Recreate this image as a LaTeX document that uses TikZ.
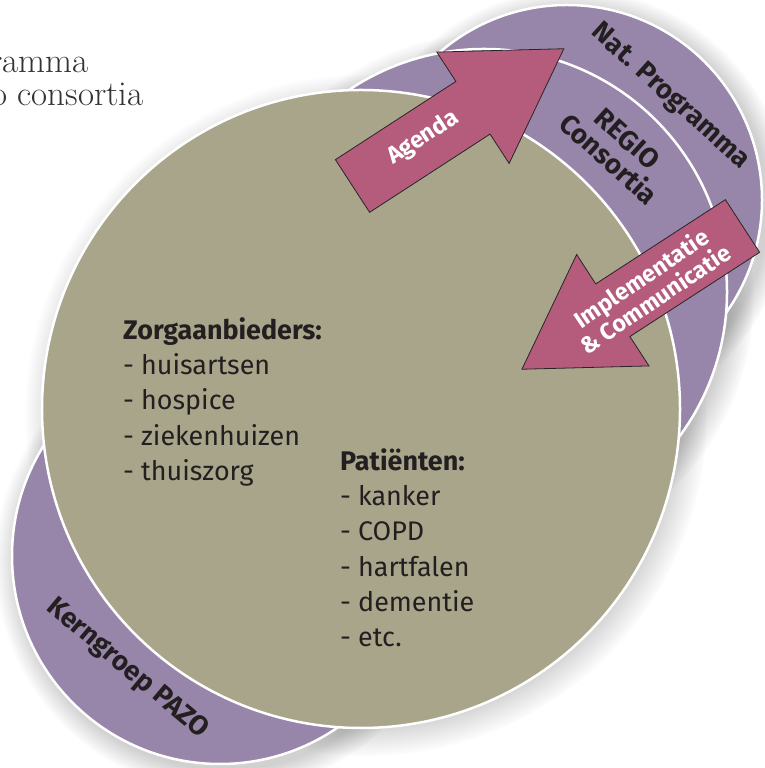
\documentclass[tikz,border=0pt]{standalone}
\usepackage{fontspec}
\setsansfont{Fira Sans}
\usepackage{xcolor}
\usetikzlibrary{shapes.arrows, fadings, positioning}
\definecolor{zorgolive}{HTML}{A8A58A}
\definecolor{paars}{HTML}{9886AA}
\definecolor{roze}{HTML}{B55C7C}
\definecolor{tekst}{HTML}{231F20}
\tikzstyle{ring}=[circle, draw=white, line width=2.5bp, fill=paars]
\tikzstyle{core}=[circle, draw=white, line width=2.5bp, fill=zorgolive]
\tikzstyle{glow}=[fill=black, opacity=0.18, path fading=circle with fuzzy edge 10 percent]
\tikzstyle{bigarrow}=[single arrow, draw=black!85, line width=0.8bp, fill=roze, inner xsep=0pt, inner ysep=31bp, outer sep=0pt, single arrow head extend=35bp, single arrow tip angle=63]
\tikzstyle{arrowlabel}=[text=white, font=\sffamily\bfseries\fontsize{23.5}{24}\selectfont, align=center, inner sep=0pt]
\tikzstyle{ringlabel}=[text=tekst, font=\sffamily\bfseries\fontsize{27.5}{28}\selectfont, align=center, inner sep=0pt]
\tikzstyle{listtext}=[text=tekst, font=\sffamily\fontsize{27}{35.5}\selectfont, align=left, inner sep=0pt, anchor=north west]
\tikzstyle{kop}=[text=black!80, font=\fontsize{35}{36}\selectfont, inner sep=0pt, anchor=base west]

\begin{document}
\begin{tikzpicture}[x=1bp, y=1bp]
        \useasboundingbox (0,0) rectangle (765,768);
        \clip (0,0) rectangle (765,768);
        \fill[white] (0,0) rectangle (765,768);
        \node (kop1) [kop] at (-10,695) {ramma};
        \node (kop2) [kop] at (-9,662) {o consortia};

        \fill[glow] (225,206) circle (230);
        \fill[glow] (572,562) circle (217);
        \fill[glow] (489,470) circle (265);
        \fill[glow] (366,353) circle (341);

        \node (kern) [ring, minimum size=416bp] at (220,212) {};
        \node (nat) [ring, minimum size=390bp] at (567,568) {};
        \node (regio) [ring, minimum size=486bp] at (484,476) {};
        \node (zorg) [core, minimum size=638bp] at (361,359) {};

        \node (kernlabel) [ringlabel, rotate=-40] at (127,99) {Kerngroep PAZO};
        \node (natlabel) [ringlabel, rotate=-42] at (670,671) {Nat. Programma};
        \node (regiolabel) [ringlabel, rotate=-42] at (618,619) {REGIO\\Consortia};

        \node (agenda) [bigarrow, minimum height=252bp, rotate=33, anchor=tail] at (352.5,582) {};
        \node (agendalabel) [arrowlabel, rotate=33] at (423,630) {Agenda};
        \node (impl) [bigarrow, minimum height=263bp, rotate=213, anchor=tail] at (742.5,542) {};
        \node (impllabel) [arrowlabel, rotate=34] at (648,480) {Implementatie\\\& Communicatie};

        \node (zorglist) [listtext] at (123,451) {{\bfseries Zorgaanbieders:}\\- huisartsen\\- hospice\\- ziekenhuizen\\- thuiszorg};
        \node (patlist) [listtext] at (340,320) {{\bfseries Patiënten:}\\- kanker\\- COPD\\- hartfalen\\- dementie\\- etc.};
\end{tikzpicture}
\end{document}
